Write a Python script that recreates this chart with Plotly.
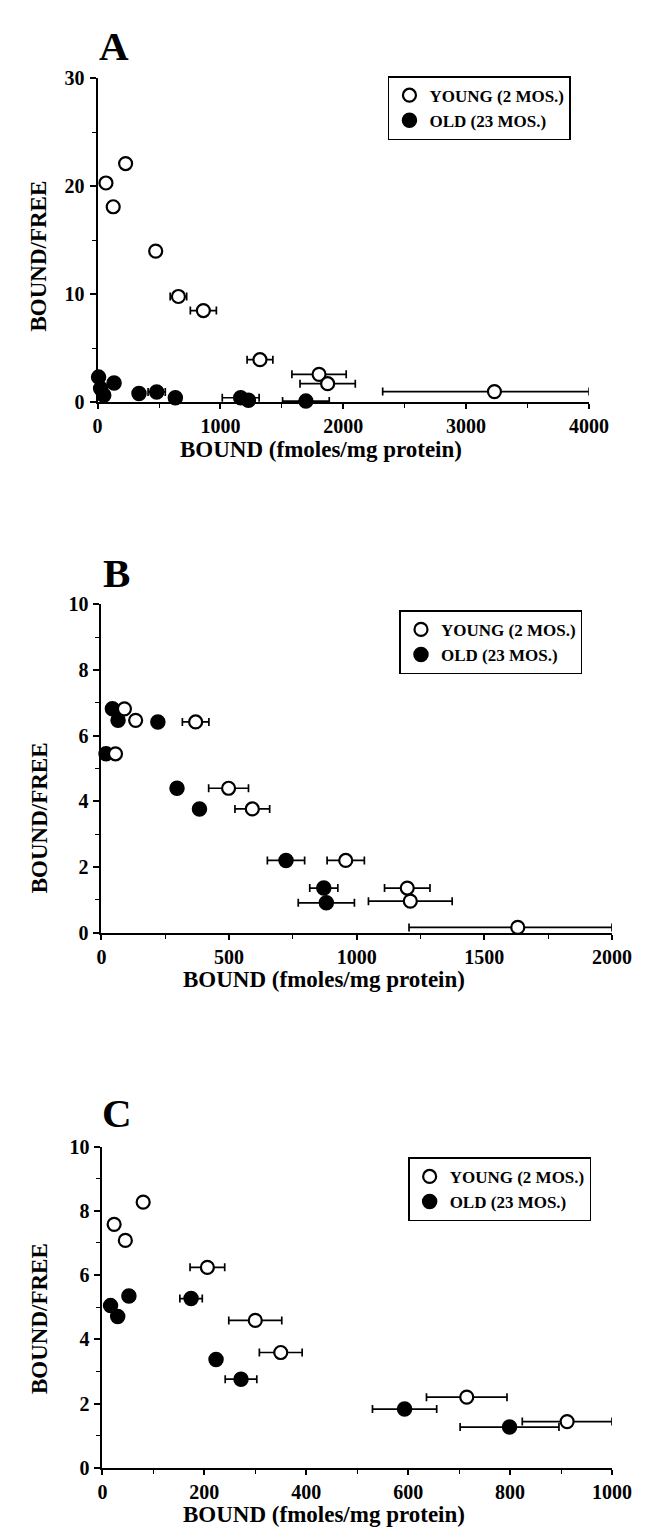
import plotly.graph_objects as go

W, H = 648, 1531

# ---------------- Panel A data ----------------
a_young_x = [68, 228, 127, 473, 658, 861, 1322, 1803, 1873, 3231]
a_young_y = [20.3, 22.1, 18.1, 14.0, 9.8, 8.5, 3.95, 2.6, 1.73, 1.0]
a_young_err_plus = [None, None, None, 40, 67, 106, 105, 221, 225, 770]
a_young_err_minus = [None, None, None, 40, 67, 106, 105, 221, 225, 910]
a_old_x = [8, 25, 50, 134, 337, 481, 633, 1165, 1228, 1696]
a_old_y = [2.34, 1.28, 0.67, 1.8, 0.82, 0.97, 0.43, 0.43, 0.2, 0.12]
a_old_err = [None, None, None, None, None, 70, None, 150, None, 190]

# ---------------- Panel B data ----------------
b_young_x = [90, 134, 55, 369, 498, 591, 957, 1198, 1210, 1631]
b_young_y = [6.82, 6.47, 5.45, 6.42, 4.4, 3.77, 2.2, 1.36, 0.96, 0.16]
b_young_err_plus = [None, None, None, 52, 78, 68, 73, 89, 164, 369]
b_young_err_minus = [None, None, None, 52, 78, 68, 73, 89, 164, 426]
b_old_x = [43, 65, 18, 221, 296, 384, 723, 871, 881]
b_old_y = [6.82, 6.47, 5.45, 6.42, 4.4, 3.77, 2.2, 1.36, 0.91]
b_old_err = [None, None, None, None, None, None, 73, 55, 110]

# ---------------- Panel C data ----------------
c_young_x = [23, 45, 80, 206, 300, 350, 715, 912]
c_young_y = [7.58, 7.08, 8.27, 6.24, 4.59, 3.59, 2.2, 1.44]
c_young_err = [None, None, None, 34, 52, 42, 79, 88]
c_old_x = [16, 30, 52, 174, 223, 272, 593, 799]
c_old_y = [5.05, 4.71, 5.35, 5.27, 3.37, 2.76, 1.83, 1.27]
c_old_err = [None, None, None, 22, None, 31, 63, 97]

young_label = "YOUNG (2 MOS.)"
old_label = "OLD (23 MOS.)"

FONT = "Liberation Serif"


def px(x):
    return x / W


def py(y):
    return 1 - y / H


fig = go.Figure()

panels = [
    ("", "legend", (a_young_x, a_young_y, a_young_err_plus, a_young_err_minus),
     (a_old_x, a_old_y, a_old_err, a_old_err)),
    ("2", "legend2", (b_young_x, b_young_y, b_young_err_plus, b_young_err_minus),
     (b_old_x, b_old_y, b_old_err, b_old_err)),
    ("3", "legend3", (c_young_x, c_young_y, c_young_err, c_young_err),
     (c_old_x, c_old_y, c_old_err, c_old_err)),
]

for suf, leg, young, old in panels:
    xa = "x" + suf
    ya = "y" + suf
    ox, oy, op, om = old
    fig.add_trace(go.Scatter(
        x=ox, y=oy, mode="markers", name=old_label, legend=leg,
        xaxis=xa, yaxis=ya, cliponaxis=False,
        marker=dict(symbol="circle", size=14, color="black",
                    line=dict(color="black", width=1.5)),
        error_x=dict(type="data", symmetric=False, array=op, arrayminus=om,
                     color="black", thickness=1.7, width=4),
    ))
    yx, yy, yp, ym = young
    fig.add_trace(go.Scatter(
        x=yx, y=yy, mode="markers", name=young_label, legend=leg,
        xaxis=xa, yaxis=ya, cliponaxis=False,
        marker=dict(symbol="circle", size=13, color="white",
                    line=dict(color="black", width=2.2)),
        error_x=dict(type="data", symmetric=False, array=yp, arrayminus=ym,
                     color="black", thickness=1.7, width=4),
    ))

tickfont = dict(family=FONT, size=20, color="black", weight="bold")


def xaxis_cfg(dom, rng, dtick, minor):
    return dict(domain=[px(dom[0]), px(dom[1])], range=rng, dtick=dtick, tick0=0,
                showline=True, linecolor="black", linewidth=2,
                ticks="outside", ticklen=5, tickwidth=1.5, tickcolor="black",
                minor=dict(dtick=minor, ticks="outside", ticklen=4, tickwidth=1.2,
                           tickcolor="black"),
                showgrid=False, zeroline=False, tickfont=tickfont, ticklabelstandoff=0)


def yaxis_cfg(dom, rng, dtick, minor):
    return dict(domain=[py(dom[1]), py(dom[0])], range=rng, dtick=dtick, tick0=0,
                showline=True, linecolor="black", linewidth=2,
                ticks="outside", ticklen=6, tickwidth=1.5, tickcolor="black",
                minor=dict(dtick=minor, ticks="outside", ticklen=4, tickwidth=1.2,
                           tickcolor="black"),
                showgrid=False, zeroline=False, tickfont=tickfont, ticklabelstandoff=1)


fig.update_layout(
    width=W, height=H,
    margin=dict(l=0, r=0, t=0, b=0),
    paper_bgcolor="white", plot_bgcolor="white",
    xaxis=dict(anchor="y", **xaxis_cfg((88, 599), [0, 4000], 1000, 500)),
    yaxis=dict(anchor="x", **yaxis_cfg((60, 389), [0, 30], 10, 5)),
    xaxis2=dict(anchor="y2", **xaxis_cfg((92, 623), [0, 2000], 500, 250)),
    yaxis2=dict(anchor="x2", **yaxis_cfg((594, 927), [0, 10], 2, 1)),
    xaxis3=dict(anchor="y3", **xaxis_cfg((93, 623), [0, 1000], 200, 100)),
    yaxis3=dict(anchor="x3", **yaxis_cfg((1144, 1470), [0, 10], 2, 1)),
)

leg_common = dict(bgcolor="white", bordercolor="black", borderwidth=1.5,
                  font=dict(family=FONT, size=17, color="black", weight="bold"),
                  traceorder="reversed", xanchor="left", yanchor="top",
                  itemwidth=30, tracegroupgap=0)
fig.update_layout(
    legend=dict(x=px(390), y=py(58), **leg_common),
    legend2=dict(x=px(402), y=py(600), **leg_common),
    legend3=dict(x=px(411), y=py(1155), **leg_common),
)

ann = []
titlefont = dict(family=FONT, size=23, color="black", weight="bold")
letterfont = dict(family=FONT, size=41, color="black", weight="bold")
for letter, (lx, ly) in zip(["A", "B", "C"], [(105, 27), (108, 562), (108, 1110)]):
    ann.append(dict(text=letter, x=px(lx), y=py(ly), xref="paper", yref="paper",
                    showarrow=False, font=letterfont, xanchor="center", yanchor="middle"))
for (tx, ty) in [(320, 437), (323, 975), (323, 1517)]:
    ann.append(dict(text="BOUND (fmoles/mg protein)", x=px(tx), y=py(ty), xref="paper",
                    yref="paper", showarrow=False, font=titlefont,
                    xanchor="center", yanchor="middle"))
for (tx, ty) in [(27, 240), (27, 810), (27, 1318)]:
    ann.append(dict(text="BOUND/FREE", x=px(tx), y=py(ty), xref="paper", yref="paper",
                    showarrow=False, font=titlefont, textangle=-90,
                    xanchor="center", yanchor="middle"))
fig.update_layout(annotations=ann)

fig.write_html("out.html")
